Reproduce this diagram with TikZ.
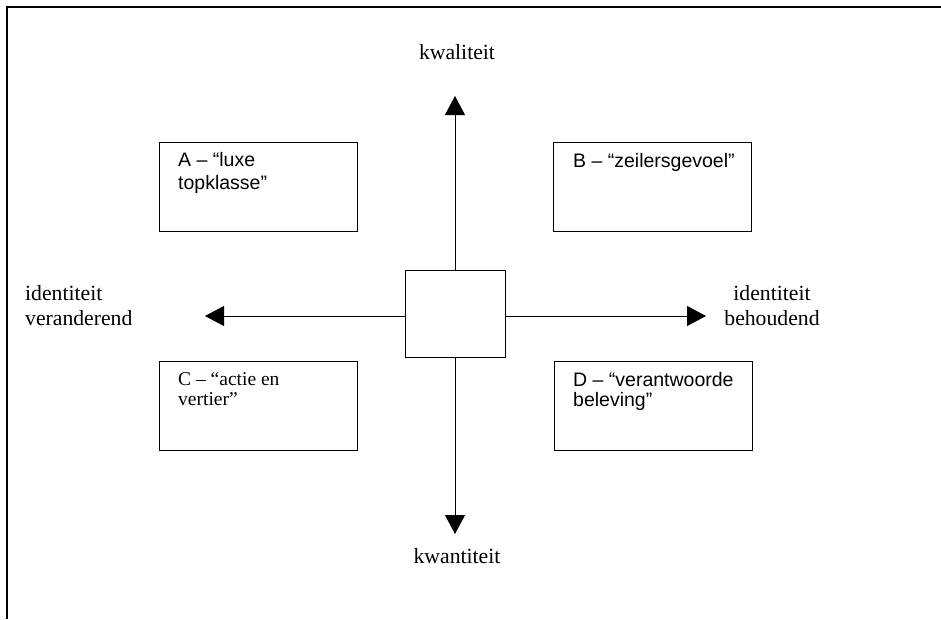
\documentclass[tikz,border=0pt]{standalone}
\usepackage{fontspec}
\setmainfont{Liberation Serif}
\setsansfont{Liberation Sans}
\usetikzlibrary{arrows.meta}
\tikzstyle{quadrant} = [
 rectangle,
 draw,
 line width=1pt,
 minimum width=198pt,
 minimum height=89pt,
 anchor=north west,
 inner sep=0pt
]
\tikzstyle{quadText} = [
 anchor=north west,
 inner sep=0pt,
 align=left,
 font=\sffamily\fontsize{19.5}{23}\selectfont
]
\tikzstyle{axisLabel} = [
 align=center,
 inner sep=0pt,
 font=\fontsize{21.7}{25}\selectfont
]
\tikzstyle{axis} = [
 line width=1pt,
 -{Triangle[length=19pt,width=20pt]}
]

\begin{document}
\begin{tikzpicture}[x=1pt,y=-1pt]
  \useasboundingbox (0,0) rectangle (941,619);
  \draw [line width=2pt] (941,7) -- (7,7) -- (7,619);

  \node [rectangle, draw, line width=1pt, minimum width=100pt,
    minimum height=87pt, inner sep=0pt] (centre) at (455,314) {};

  \node [quadrant] (A) at (159,142) {};
  \node [quadrant] (B) at (553,142) {};
  \node [quadrant] (C) at (159,361) {};
  \node [quadrant] (D) at (554,361) {};

  \node [quadText] (textA) at ([xshift=19pt,yshift=-10pt]A.north west)
    {A – “luxe\\topklasse”};
  \node [quadText] (textB) at ([xshift=20pt,yshift=-11pt]B.north west)
    {B – “zeilersgevoel”};
  \node [quadText, font=\rmfamily\fontsize{19.5}{20}\selectfont] (textC)
    at ([xshift=19pt,yshift=-11pt]C.north west) {C – “actie en\\vertier”};
  \node [quadText, font=\sffamily\fontsize{19.5}{20}\selectfont] (textD)
    at ([xshift=19pt,yshift=-11pt]D.north west) {D – “verantwoorde\\beleving”};

  \coordinate (up) at (455,96);
  \coordinate (down) at (455,534);
  \coordinate (left) at (205,316);
  \coordinate (right) at (706,316);

  \draw [axis] (centre.north) -- (up);
  \draw [axis] (centre.south) -- (down);
  \draw [axis] (centre.west |- left) -- (left);
  \draw [axis] (centre.east |- right) -- (right);

  \node [axisLabel, anchor=base] (quality) at (457,59) {kwaliteit};
  \node [axisLabel, anchor=base] (quantity) at (457,563) {kwantiteit};
  \node [axisLabel, align=left, anchor=north west] (changing) at (25,285)
    {identiteit\\veranderend};
  \node [axisLabel, anchor=north] (keeping) at (772,285)
    {identiteit\\behoudend};
\end{tikzpicture}
\end{document}
